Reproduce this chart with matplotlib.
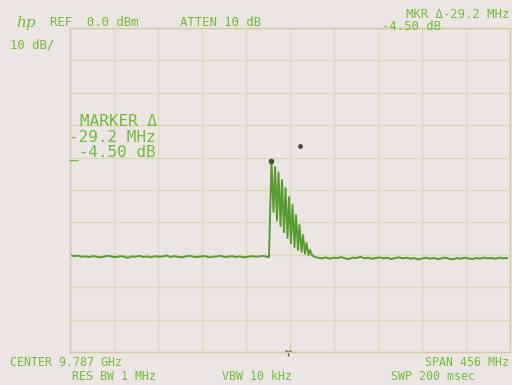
import matplotlib
matplotlib.use('Agg')
import matplotlib.pyplot as plt
import numpy as np

# ---- instrument settings ----
ref_dbm = 0.0
db_per_div = 10
center_ghz = 9.787
span_mhz = 456
n_xdiv = 10
n_ydiv = 10

# ---- trace data (offset from center in MHz, level in dBm) ----
noise_left_mhz = list(range(-228, -23, 4))
noise_left_dbm = [-70.1, -70.4, -70.3, -70.6, -70.5, -70.7, -70.4, -70.6, -70.8, -70.5,
                  -70.3, -70.6, -70.7, -70.4, -70.6, -70.9, -70.5, -70.6, -70.3, -70.7,
                  -70.5, -70.8, -70.4, -70.6, -70.5, -70.2, -70.7, -70.4, -70.6, -70.8,
                  -70.5, -70.3, -70.6, -70.7, -70.5, -70.4, -70.8, -70.6, -70.5, -70.3,
                  -70.7, -70.6, -70.4, -70.7, -70.5, -70.8, -70.6, -70.4, -70.6, -70.5,
                  -70.3, -70.6]

comb_mhz = [-21.8, -19.2, -17.1, -15.5, -13.5, -11.9, -9.8, -8.3, -6.2, -4.7,
            -2.6, -1.0, 1.0, 2.6, 4.7, 6.2, 8.3, 9.8, 11.9, 13.5,
            15.5, 17.1, 19.2, 20.7, 22.8]
comb_dbm = [-70.7, -41.0, -56.8, -42.9, -59.3, -44.7, -61.1, -46.9, -63.0, -49.4,
            -64.8, -52.2, -66.4, -54.6, -67.6, -57.7, -68.5, -60.8, -69.1, -63.9,
            -69.7, -66.3, -70.1, -68.5, -70.1]

noise_right_mhz = list(range(25, 226, 4))
noise_right_dbm = [-70.6, -70.9, -71.1, -70.8, -71.2, -70.9, -71.0, -70.7, -71.1, -71.3,
                   -70.9, -71.0, -70.6, -71.1, -70.9, -71.2, -71.0, -70.8, -71.1, -70.9,
                   -71.3, -71.0, -70.8, -71.1, -70.9, -71.2, -71.0, -71.4, -71.1, -70.9,
                   -71.2, -71.0, -71.3, -71.1, -70.9, -71.2, -71.4, -71.0, -71.2, -70.9,
                   -71.1, -71.3, -71.0, -71.2, -70.9, -71.1, -71.0, -71.2, -70.9, -71.1,
                   -71.0]

marker_mhz, marker_dbm = -19.2, -41.0
ref_marker_mhz, ref_marker_dbm = 10.0, -36.5
center_marker_mhz = -2.0

# ---- colours ----
bg = '#ede5e3'
grid_c = '#ddd7b6'
trace_c = '#579c33'
text_c = '#6fbc3a'

freq = np.array(noise_left_mhz + comb_mhz + noise_right_mhz, dtype=float)
level = np.array(noise_left_dbm + comb_dbm + noise_right_dbm, dtype=float)

W, H = 512, 385
fig = plt.figure(figsize=(W / 100, H / 100), dpi=100, facecolor=bg)
ax = fig.add_axes([70 / W, 33 / H, 440 / W, 324 / H], facecolor=bg)

half = span_mhz / 2
ax.set_xlim(-half, half)
ax.set_ylim(ref_dbm - n_ydiv * db_per_div, ref_dbm)
ax.set_xticks(np.linspace(-half, half, n_xdiv + 1))
ax.set_yticks(np.linspace(ref_dbm - n_ydiv * db_per_div, ref_dbm, n_ydiv + 1))
ax.tick_params(length=0, labelbottom=False, labelleft=False)
ax.grid(True, color=grid_c, lw=1.0)
for s in ax.spines.values():
    s.set_color('#d2cba4')
    s.set_linewidth(1.0)

ax.plot(freq, level, color=trace_c, lw=1.4, solid_joinstyle='round')
ax.plot([marker_mhz], [marker_dbm], 'o', color='#3a5a2a', ms=3)
ax.plot([ref_marker_mhz], [ref_marker_dbm], 'o', color='#4a4a4a', ms=2.5)
ax.plot([center_marker_mhz], [ref_dbm - n_ydiv * db_per_div], marker='1',
        color='#3f7a2a', ms=6, clip_on=False)

mono = 'DejaVu Sans Mono'
def t(x, y, s, size=8.4, ha='left', **kw):
    fig.text(x / W, 1 - y / H, s, fontsize=size, family=mono, color=text_c,
             ha=ha, va='center', **kw)

fig.text(16 / W, 1 - 23 / H, 'hp', fontsize=11, family='DejaVu Serif',
         style='italic', color=text_c, va='center')
t(50, 22, 'REF  0.0 dBm', size=8.8)
t(180, 22, 'ATTEN 10 dB', size=8.8)
t(509, 14, 'MKR \u0394-29.2 MHz', ha='right', size=8.8)
t(441, 27, '-4.50 dB', ha='right', size=8.8)
t(10, 45, '10 dB/', size=8.8)
t(80, 122, 'MARKER \u0394', size=11.5)
t(69, 137, '-29.2 MHz', size=11.5)
t(69, 153, '_-4.50 dB', size=11.5)
t(10, 363, 'CENTER 9.787 GHz')
t(72, 377, 'RES BW 1 MHz')
t(222, 377, 'VBW 10 kHz')
t(509, 363, 'SPAN 456 MHz', ha='right')
t(391, 377, 'SWP 200 msec')

fig.savefig('out.png', dpi=100, facecolor=bg)
